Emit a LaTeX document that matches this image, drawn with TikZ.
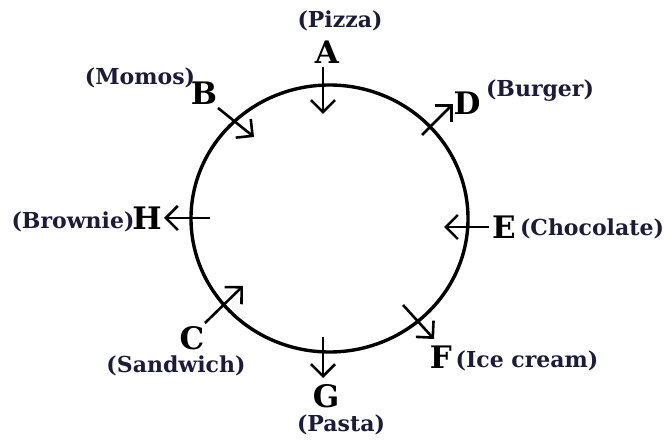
\documentclass[tikz,border=0pt]{standalone}
\usepackage{fontspec}
\setmainfont{DejaVu Serif}
\usetikzlibrary{arrows.meta}
\definecolor{fooddark}{RGB}{28,28,58}

\begin{document}
\begin{tikzpicture}[x=0.5pt,y=-0.5pt,
    letter/.style={font=\fontsize{15.5}{17}\selectfont\bfseries, inner sep=0pt},
    food/.style={font=\fontsize{11}{13}\selectfont\bfseries, text=fooddark, inner sep=0pt},
    facing/.style={line width=1.3pt, -{Straight Barb[length=6pt,width=12pt]}}]
    \useasboundingbox (0,0) rectangle (665,443);

    % Round table
    \coordinate (centre) at (329.5,218.5);
    \draw[line width=1.7pt] (centre) ellipse [x radius=69.25pt, y radius=66.75pt];

    % Facing arrows
    \foreach \name/\xa/\ya/\xb/\yb in {A/323/67/323/114, B/218/108/254/137, D/422/135/453/104,
        H/210/218/164/218, E/489/227/444/227, C/205/323/243/286, F/403/305/434/339, G/323/337/323/378} {
        \coordinate (\name s) at (\xa,\ya);
        \coordinate (\name e) at (\xb,\yb);
        \draw[facing] (\name s) -- (\name e);
    }

    % Persons
    \node[letter] (A) at (327,52) {A};
    \node[letter] (B) at (204,93) {B};
    \node[letter] (D) at (467,103) {D};
    \node[letter] (H) at (147,218) {H};
    \node[letter] (E) at (504,227) {E};
    \node[letter] (C) at (192,338) {C};
    \node[letter] (F) at (441,357) {F};
    \node[letter] (G) at (326,396) {G};

    % Food
    \node[food] (pizza) at (340,21) {(Pizza)};
    \node[food] (momos) at (140,78) {(Momos)};
    \node[food] (burger) at (540,91) {(Burger)};
    \node[food] (brownie) at (73,222) {(Brownie)};
    \node[food] (chocolate) at (592,229) {(Chocolate)};
    \node[food] (sandwich) at (176,366) {(Sandwich)};
    \node[food] (icecream) at (527,361) {(Ice cream)};
    \node[food] (pasta) at (341,425) {(Pasta)};
\end{tikzpicture}
\end{document}
